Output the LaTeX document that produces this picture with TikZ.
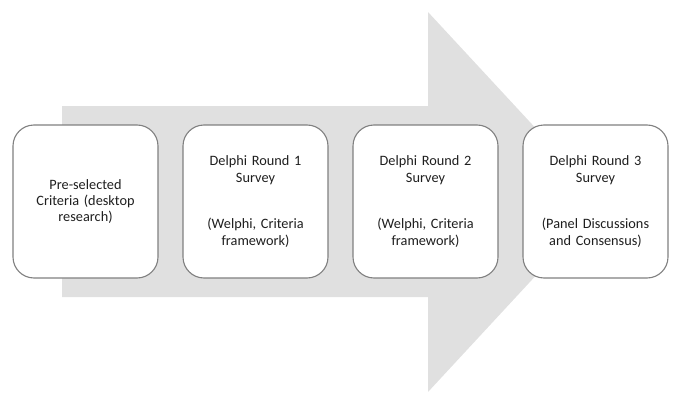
\documentclass[tikz,border=0pt]{standalone}
\usepackage{fontspec}
\setmainfont{Carlito}
\begin{document}
\begin{tikzpicture}[x=1pt,y=-1pt,
  stage/.style={draw=black!50, line width=1.1pt, fill=white, rounded corners=21pt,
    minimum width=145pt, minimum height=153pt, inner sep=0pt, align=center,
    text width=138pt, font=\fontsize{14.3}{16.4}\selectfont, text=black!88},
  bigarrow/.style={fill=black!12, draw=none}]
\useasboundingbox (0,0) rectangle (680,404);
\fill[bigarrow] (62,106) -- (428,106) -- (428,12) -- (604,202) -- (428,392) -- (428,297) -- (62,297) -- cycle;
\node[stage] (s1) at (85.5,201.5) {Pre-selected\\Criteria (desktop\\research)};
\node[stage] (s2) at (255.5,201.5) {Delphi Round 1\\Survey\\[30.5pt](Welphi, Criteria\\framework)};
\node[stage] (s3) at (425.5,201.5) {Delphi Round 2\\Survey\\[30.5pt](Welphi, Criteria\\framework)};
\node[stage] (s4) at (595.5,201.5) {Delphi Round 3\\Survey\\[30.5pt](Panel Discussions\\and Consensus)};
\end{tikzpicture}
\end{document}
